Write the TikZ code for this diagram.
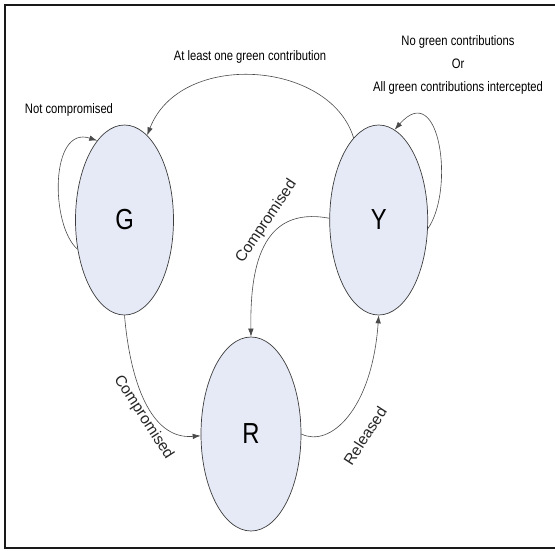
\documentclass[tikz,border=0pt]{standalone}
\usepackage{fontspec}
\setmainfont{Liberation Sans}[FakeStretch=0.82]
\newfontfamily\widefont{Liberation Sans}
\definecolor{state-fill}{HTML}{E5EAF6}
\definecolor{state-line}{HTML}{3C3C3C}
\definecolor{edge-line}{HTML}{4A4A4A}
\usetikzlibrary{shapes.geometric,arrows.meta,positioning}

\begin{document}
\begin{tikzpicture}[x=1pt, y=-1pt,
  state/.style={ellipse, draw=state-line, fill=state-fill, line width=0.7pt,
                minimum width=98pt, minimum height=190pt, inner sep=0pt,
                font=\fontsize{29}{31}\selectfont},
  lbl/.style={font=\fontsize{13.7}{23}\selectfont, align=center, inner sep=0pt},
  slbl/.style={font=\widefont\fontsize{15.5}{17}\selectfont, inner sep=0pt, text=black!85},
  arr/.style={-{Latex[length=8pt,width=5.5pt]}, edge-line, line width=0.6pt},
  frame/.style={draw=black!90, line width=2pt}]

  \useasboundingbox (0,0) rectangle (555,550);
  \draw[frame] (555,5) -- (5,5) -- (5,548) -- (555,548);

  \node[state] (G) at (124.5,220) {G};
  \node[state, right=155.5pt of G] (Y) {Y};
  \node[state, minimum width=100pt, minimum height=194pt] (R) at (251,434) {R};

  \node[lbl] (notc) at (69,110) {Not compromised};
  \node[lbl] (least) at (250,57) {At least one green contribution};
  \node[lbl] (nogreen) at (458,65) {No green contributions\\Or\\All green contributions intercepted};
  \node[slbl, rotate=56] (compyr) at (266.5,221.5) {Compromised};
  \node[slbl, rotate=-57] (compgr) at (143.5,417.5) {Compromised};
  \node[slbl, rotate=57] (rel) at (365,436) {Released};

  \draw[arr] (G.212) .. controls (50,225) and (50,125) .. (G.109);
  \draw[arr] (Y.-10) .. controls (455,190) and (440,78) .. (Y.80);
  \draw[arr] (Y.107) .. controls (330,60) and (180,50) .. (G.75);
  \draw[arr] (Y.178) .. controls (260,205) and (250,270) .. (R.90);
  \draw[arr] (G.270) .. controls (130,380) and (150,440) .. (R.182);
  \draw[arr] (R.0) .. controls (330,448) and (372,410) .. (Y.270);

\end{tikzpicture}
\end{document}
